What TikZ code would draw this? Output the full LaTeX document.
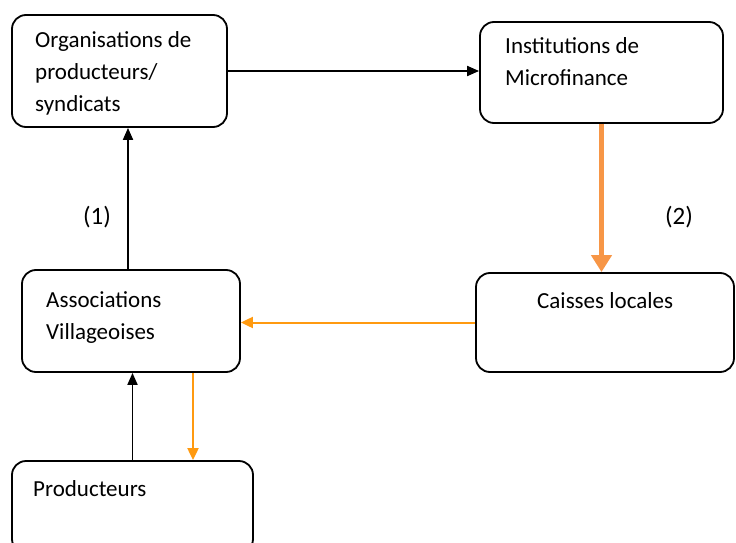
\documentclass[tikz,border=0pt]{standalone}
\usepackage{fontspec}
\setmainfont{Carlito}
\usetikzlibrary{positioning,calc,arrows.meta}
\tikzset{>=stealth}
\definecolor{orangeF}{HTML}{F79646}
\definecolor{orangeL}{HTML}{FF9A10}
\tikzset{
  box/.style={draw,line width=1.8pt,rounded corners=14pt,inner sep=0pt},
  txt/.style={anchor=base west,align=left,inner sep=0pt,font=\fontsize{23}{32}\selectfont},
  blk/.style={line width=1.8pt,-{Triangle[length=12pt,width=10pt]}},
  org/.style={line width=2pt,orangeL,-{Triangle[length=12pt,width=11pt]}},
  fat/.style={line width=5pt,orangeF,-{Triangle[length=17pt,width=20pt]}},
}

\begin{document}
\begin{tikzpicture}[x=1pt,y=-1pt]
\useasboundingbox (0,0) rectangle (736,543);
% boxes
\node[box,minimum width=215pt,minimum height=112pt] (orga) at (119.5,71) {};
\node[box,minimum width=243pt,minimum height=101pt] (micro) at (601.5,72.5) {};
\node[box,minimum width=218pt,minimum height=102pt] (assoc) at (131,321) {};
\node[box,minimum width=258pt,minimum height=99pt] (caisse) at (605,322.5) {};
\node[box,minimum width=241pt,minimum height=92pt] (prod) at (132.5,507) {};
% texts (base = last line)
\node[txt] (torga) at (35,111) {Organisations de\\producteurs/\\syndicats};
\node[txt] (tmicro) at (505,85) {Institutions de\\Microfinance};
\node[txt] (tassoc) at (46,339) {Associations\\Villageoises};
\node[txt] (tcaisse) at (537,308) {Caisses locales};
\node[txt] (tprod) at (33,496) {Producteurs};
\node[font=\fontsize{25}{28}\selectfont] (un) at (97,217) {(1)};
\node[font=\fontsize{25}{28}\selectfont] (deux) at (679,217) {(2)};
% connectors
\draw[blk] (orga.east) -- (micro.west |- orga.east);
\draw[fat] (micro.south) -- (micro.south |- caisse.north);
\draw[org] (caisse.west) -- (assoc.east |- caisse.west);
\draw[blk] ([xshift=-3pt]assoc.north) -- ([xshift=-3pt]assoc.north |- orga.south);
\draw[blk] (prod.north) -- (prod.north |- assoc.south);
\draw[org] ([xshift=62pt]assoc.south) -- ([xshift=62pt]assoc.south |- prod.north);
\end{tikzpicture}
\end{document}
